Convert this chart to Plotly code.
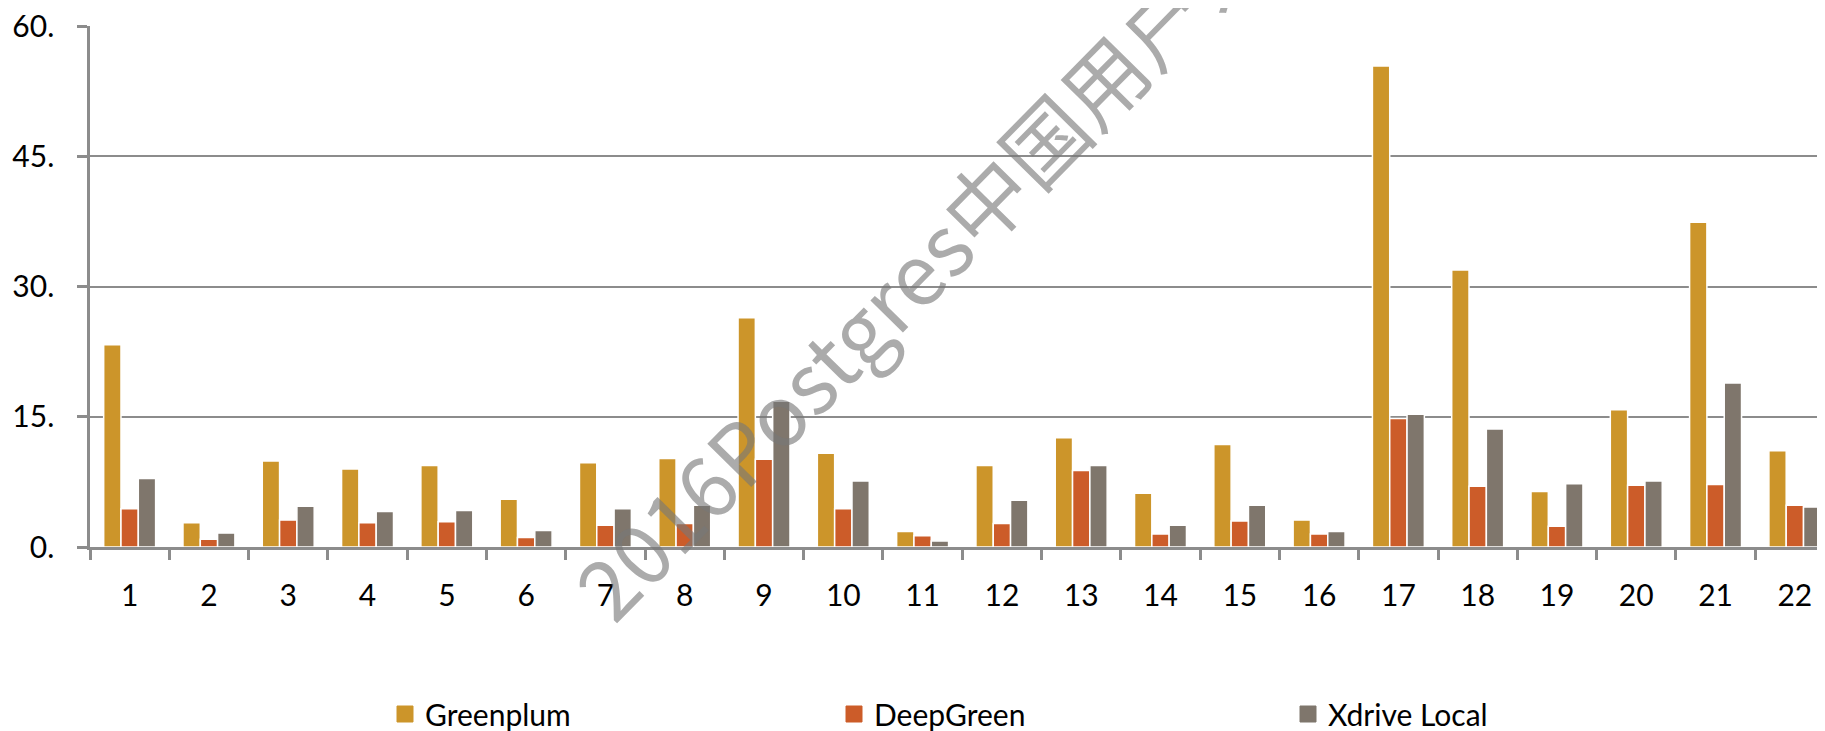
import plotly.graph_objects as go

categories = [str(i) for i in range(1, 23)]
greenplum = [23.3, 2.8, 9.9, 9.0, 9.4, 5.5, 9.7, 10.2, 26.4, 10.8, 1.8, 9.4, 12.6, 6.2, 11.8, 3.1, 55.4, 31.9, 6.4, 15.8, 37.4, 11.1]
deepgreen = [4.4, 0.9, 3.1, 2.8, 2.9, 1.1, 2.5, 2.7, 10.1, 4.4, 1.3, 2.7, 8.8, 1.5, 3.0, 1.5, 14.8, 7.0, 2.4, 7.1, 7.2, 4.8]
xdrive = [7.9, 1.6, 4.7, 4.1, 4.2, 1.9, 4.4, 4.8, 16.8, 7.6, 0.7, 5.4, 9.4, 2.5, 4.8, 1.8, 15.3, 13.6, 7.3, 7.6, 18.9, 4.6]
series_names = ["Greenplum", "DeepGreen", "Xdrive Local"]
y_tickvals = [0, 15, 30, 45, 60]
y_ticktext = ["0.", "15.", "30.", "45.", "60."]
watermark = "2016Postgres中国用户大会"

colors = ["#CC952A", "#CC5C29", "#7F766C"]
FONT = "Lato, 'Noto Sans', sans-serif"
GRID = "#8C8C8C"

# the page body adds an 8px offset, so the figure is sized to fill the window from there
W, H = 1817, 723

fig = go.Figure()
for name, vals, col in zip(series_names, [greenplum, deepgreen, xdrive], colors):
    fig.add_trace(go.Bar(
        x=categories, y=vals, name=name, showlegend=False,
        marker=dict(color=col, line=dict(color="white", width=1.5)),
    ))

legend_ids = ["legend", "legend2", "legend3"]
legend_x = [377, 826, 1280]
for name, col, lid in zip(series_names, colors, legend_ids):
    fig.add_trace(go.Scatter(
        x=[None], y=[None], mode="markers", name=name, legend=lid,
        marker=dict(symbol="square", size=16, color=col, line=dict(color=col, width=1)),
    ))

leg_common = dict(
    orientation="h", xref="container", yref="container",
    y=1 - 706 / H, yanchor="middle", xanchor="left",
    font=dict(family=FONT, size=30, color="black"),
    bgcolor="rgba(0,0,0,0)", borderwidth=0,
)
legends = {}
for lid, px in zip(legend_ids, legend_x):
    legends[lid] = dict(leg_common, x=px / W)

fig.update_layout(
    width=W, height=H, autosize=False,
    margin=dict(l=82, r=0, t=18, b=184, pad=0),
    paper_bgcolor="white", plot_bgcolor="white",
    barmode="group", bargap=0.345, bargroupgap=0,
    font=dict(family=FONT, size=30, color="black"),
    **legends,
)

fig.update_xaxes(
    type="category", range=[-0.5, 21.38],
    showline=True, linecolor=GRID, linewidth=3,
    ticks="outside", tickson="boundaries", ticklen=10, tickwidth=2.5, tickcolor=GRID,
    showgrid=False, zeroline=False,
    tickfont=dict(family=FONT, size=30, color="black"),
    ticklabelstandoff=20,
)
fig.update_yaxes(
    range=[0, 60.02], tickvals=y_tickvals, ticktext=y_ticktext,
    showline=True, linecolor=GRID, linewidth=2.5,
    ticks="outside", ticklen=10, tickwidth=2.5, tickcolor=GRID,
    showgrid=True, gridcolor=GRID, gridwidth=2,
    zeroline=False, ticklabeloverflow="allow",
    tickfont=dict(family=FONT, size=30, color="black"),
    ticklabelstandoff=17,
)

fig.add_annotation(
    text=watermark, xref="paper", yref="paper",
    x=(939 - 82) / 1735, y=(539 - 227) / 521,
    xanchor="center", yanchor="middle", showarrow=False,
    textangle=-45.5,
    font=dict(family="'Noto Sans CJK SC', sans-serif", size=84, color="rgba(120,120,120,0.62)"),
)

fig.write_html("out.html")
